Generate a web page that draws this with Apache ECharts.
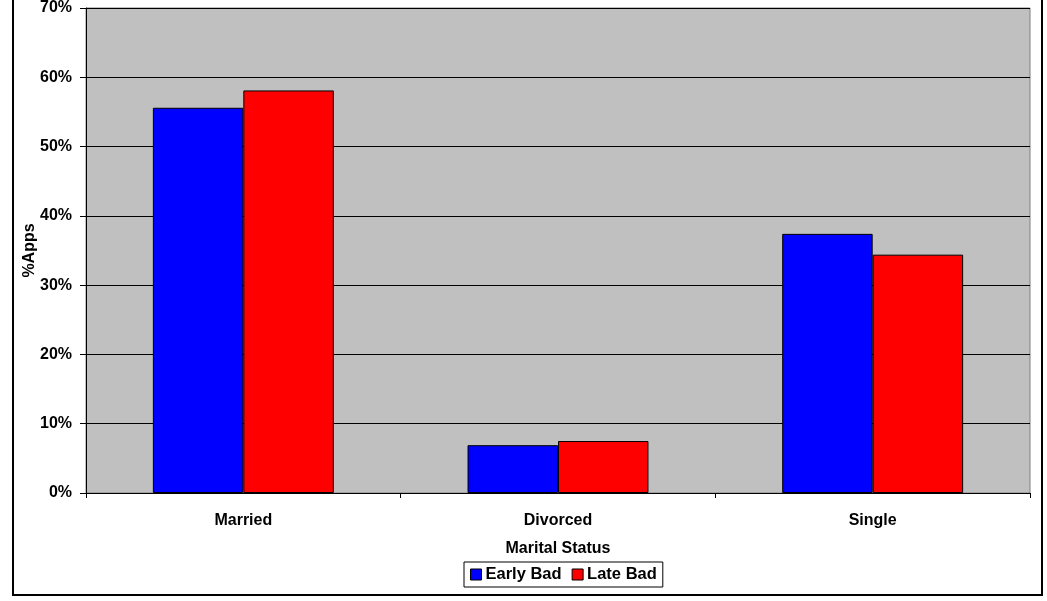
<!DOCTYPE html>
<html>
<head>
<meta charset="utf-8">
<script src="https://cdn.jsdelivr.net/npm/echarts@6/dist/echarts.min.js"></script>
<style>
  body { margin: 0; background: #fff; }
  #chart { width: 1047px; height: 601px; }
</style>
</head>
<body>
<div id="chart"></div>
<script>
const categories = ["Married", "Divorced", "Single"];
const earlyBad = [55.6, 6.9, 37.4];
const lateBad = [58.1, 7.5, 34.4];
const yTicks = [0, 10, 20, 30, 40, 50, 60, 70];

const chart = echarts.init(document.getElementById("chart"));
const font = { fontFamily: "Liberation Sans, Arial, sans-serif", fontWeight: "bold", fontSize: 16, color: "#000" };

const option = {
  animation: false,
  graphic: [
    {
      type: "rect",
      shape: { x: 13, y: -2, width: 1029, height: 597 },
      style: { fill: null, stroke: "#000", lineWidth: 2 },
      silent: true,
    },
  ],
  grid: {
    left: 86,
    right: 17,
    top: 7,
    bottom: 108,
    show: true,
    backgroundColor: "#c0c0c0",
    borderColor: "#808080",
    borderWidth: 1,
  },
  legend: {
    top: 562,
    left: 464,
    itemWidth: 11,
    itemHeight: 11,
    itemGap: 10,
    padding: [4, 6, 4, 6],
    borderColor: "#000",
    borderWidth: 1,
    icon: "rect",
    itemStyle: { borderColor: "#000", borderWidth: 1 },
    textStyle: Object.assign({}, font, { fontSize: 16.5, padding: [0, 0, 0, -1] }),
    data: ["Early Bad", "Late Bad"],
  },
  xAxis: {
    type: "category",
    data: categories,
    name: "Marital Status",
    nameLocation: "middle",
    nameGap: 48,
    nameTextStyle: font,
    axisLine: { lineStyle: { color: "#000", width: 1 } },
    axisTick: { show: true, length: 5, lineStyle: { color: "#000" } },
    axisLabel: Object.assign({}, font, { margin: 20 }),
  },
  yAxis: {
    type: "value",
    min: 0,
    max: 70,
    interval: 10,
    name: "%Apps",
    nameLocation: "middle",
    nameGap: 48,
    nameMoveOverlap: false,
    nameTextStyle: font,
    axisLine: { show: true, lineStyle: { color: "#000", width: 1 } },
    axisTick: { show: true, length: 6, lineStyle: { color: "#000" } },
    axisLabel: Object.assign({}, font, {
      margin: 14,
      formatter: (v) => (yTicks.includes(v) ? v + "%" : ""),
    }),
    splitLine: { show: true, lineStyle: { color: "#000", width: 1 } },
  },
  series: [
    {
      name: "Early Bad",
      type: "bar",
      data: earlyBad,
      barGap: "0%",
      barCategoryGap: "42.5%",
      itemStyle: { color: "#0000ff", borderColor: "#000", borderWidth: 1 },
    },
    {
      name: "Late Bad",
      type: "bar",
      data: lateBad,
      itemStyle: { color: "#ff0000", borderColor: "#000", borderWidth: 1 },
    },
  ],
};

chart.setOption(option);
</script>
</body>
</html>
